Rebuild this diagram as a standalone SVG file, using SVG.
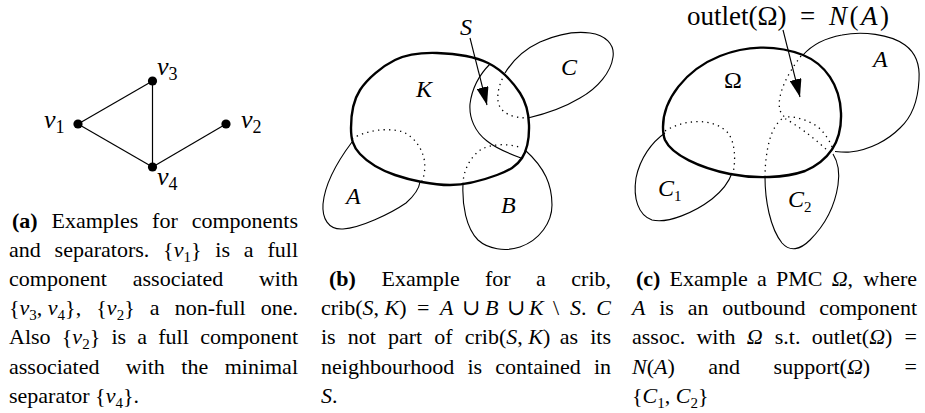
<svg xmlns="http://www.w3.org/2000/svg" width="925" height="413" viewBox="0 0 925 413">
<style>
.cap{font-family:"Liberation Serif","DejaVu Serif",serif;font-size:22px;fill:#000}
.b{font-weight:bold}
.i{font-style:italic}
.sub{font-size:15px;baseline-shift:-4.5px;font-style:normal}
.r{text-anchor:end}
.lbl{font-family:"Liberation Serif","DejaVu Serif",serif;font-style:italic;font-size:24px;fill:#000}
.up{font-style:normal}
.vl{font-family:"Liberation Serif","DejaVu Serif",serif;font-style:italic;font-size:26px;fill:#000}
.vsub{font-size:18px;baseline-shift:-5px;font-style:normal}
.fig{font-family:"Liberation Serif","DejaVu Serif",serif;font-size:27px;fill:#000}
.thick{fill:none;stroke:#000;stroke-width:2.4}
.thin{fill:none;stroke:#000;stroke-width:1.1}
.dot{fill:none;stroke:#000;stroke-width:1.3;stroke-dasharray:1.3 4.2}
.edge{stroke:#000;stroke-width:1.2}
.vtx{fill:#000}
</style>
<defs>
<marker id="ah" markerUnits="userSpaceOnUse" viewBox="0 0 18 12" markerWidth="18" markerHeight="12" refX="18" refY="6" orient="auto">
<path d="M0,0 L18,6 L0,12 z" fill="#000"/>
</marker>
</defs>

<!-- Panel (a) -->
<g id="connectors-a">
<line class="edge" x1="78" y1="124" x2="152.5" y2="81"/>
<line class="edge" x1="78" y1="124" x2="152.5" y2="167"/>
<line class="edge" x1="152.5" y1="81" x2="152.5" y2="167"/>
<line class="edge" x1="152.5" y1="167" x2="226" y2="124"/>
</g>
<g id="v1"><circle class="vtx" cx="78" cy="124" r="4.6"/><text class="vl" x="44" y="128">v<tspan class="vsub">1</tspan></text></g>
<g id="v3"><circle class="vtx" cx="152.5" cy="81" r="4.6"/><text class="vl" x="157" y="75">v<tspan class="vsub">3</tspan></text></g>
<g id="v2"><circle class="vtx" cx="226" cy="124" r="4.6"/><text class="vl" x="241" y="128">v<tspan class="vsub">2</tspan></text></g>
<g id="v4"><circle class="vtx" cx="152.5" cy="167" r="4.6"/><text class="vl" x="157" y="185">v<tspan class="vsub">4</tspan></text></g>

<!-- Panel (b) -->
<g id="region-K">
<path class="thick" d="M351,128 C351,117.3 352.7,101.3 360,90 C367.3,78.7 382.2,66.2 395,60 C407.8,53.8 421.5,52.5 437,53 C452.5,53.5 474.2,56.3 488,63 C501.8,69.7 513.2,82.7 520,93 C526.8,103.3 528.7,114.2 529,125 C529.3,135.8 527.3,149.7 522,158 C516.7,166.3 509,170.5 497,175 C485,179.5 467,185 450,185 C433,185 410,180.2 395,175 C380,169.8 367.3,161.8 360,154 C352.7,146.2 351,138.7 351,128 Z"/>
<text class="lbl" x="416" y="97">K</text>
</g>
<g id="region-A-b">
<path class="thin" d="M352,142 C340,158 325,182 323,204 C322,218 328,230 343,229 C360,228 390,214 406,203 C414,196 419,189 420,182"/>
<path class="dot" d="M421.7,181.7 C425,175 426,163 423,155 C420,146 413,136 403,132 C394,129 380,129 370,131.7 C362,133.5 357,136 353,138.3"/>
<text class="lbl" x="346" y="204">A</text>
</g>
<g id="region-B-b">
<path class="thin" d="M463,184 C462,205 466,228 478,240 C488,249 505,252 520,247 C540,240 552,222 552,205 C552,185 545,168 525,150"/>
<path class="dot" d="M463,184 C463,172 470,156 482,149 C492,144 508,143 522,148"/>
<text class="lbl" x="501" y="213">B</text>
</g>
<g id="region-C-b">
<path class="thin" d="M505,73 C513,60 525,49 540,42 C556,35 575,31 590,33 C605,35 615,44 613,57 C611,72 598,88 580,98 C565,107 545,114 528,118"/>
<path class="dot" d="M505,74 C500,82 497,92 498,101 C499,109 505,114 514,116.5 C519,117.5 524,118 528,118"/>
<text class="lbl" x="561" y="75">C</text>
</g>
<g id="region-S">
<path class="thin" d="M490,64 C480,74 472,88 470,104 C469,118 475,132 487,141 C497,149 510,154 521,158"/>
<text class="lbl" x="460" y="35">S</text>
</g>

<!-- Panel (c) -->
<g id="region-Omega">
<path class="thick" d="M663,127 C663,100 685,70 720,56 C745,46 775,44 803,55 C825,64 840,85 841,113 C842,140 830,160 805,171 C785,178 755,179 730,174 C700,168 672,155 665,140 C663,135 663,131 663,127 Z"/>
<text class="lbl up" x="724" y="88">Ω</text>
</g>
<g id="region-A-c">
<path class="thin" d="M803,55 C812,45 825,38 842,35 C862,31 890,34 905,45 C916,53 920,66 919,80 C918,100 912,117 900,128 C888,140 870,150 850,152 C845,152.5 840,152 835,151.5"/>
<path class="dot" d="M801,56 C792,68 783,82 780,97 C778,107 780,114 785,117 C795,116 808,120 818,127 C826,134 830,142 833,149"/>
<text class="lbl" x="873" y="67">A</text>
</g>
<g id="region-C2">
<path class="thin" d="M765,177 C765,200 770,228 782,243 C790,252 800,250 810,240 C825,225 835,205 838,185 C840,172 838,162 833,154"/>
<path class="dot" d="M765,177 C765,160 768,138 775,127 C778,122 781,119 784,118 C795,124 812,136 828,151"/>
<text class="lbl" x="788" y="207">C<tspan class="sub" font-size="17">2</tspan></text>
</g>
<g id="region-C1">
<path class="thin" d="M665,133 C652,142 640,158 636,178 C633,198 638,215 652,220 C668,224 695,212 712,199 C722,191 729,182 732,173"/>
<path class="dot" d="M665,131 C675,125 685,122 697,121.7 C710,121 722,126 728,133 C735,142 736,160 733,173"/>
<text class="lbl" x="658" y="196">C<tspan class="sub" font-size="17">1</tspan></text>
</g>
<text class="fig" y="25"><tspan x="687">outlet(Ω)</tspan><tspan x="800">=</tspan><tspan x="829" letter-spacing="2.5"><tspan class="i">N</tspan>(<tspan class="i">A</tspan>)</tspan></text>

<g id="connectors">
<line class="thin" x1="470" y1="38" x2="487" y2="105" marker-end="url(#ah)"/>
<line class="thin" x1="783" y1="30" x2="800" y2="97" marker-end="url(#ah)"/>
</g>

<!-- Caption (a) -->
<g id="caption-a">
<text class="cap" y="227.5"><tspan x="12" class="b">(a)</tspan><tspan x="51.5">Examples</tspan><tspan x="152.1">for</tspan></text>
<text class="cap r" x="298" y="227.5">components</text>
<text class="cap" y="256.7"><tspan x="9">and</tspan><tspan x="54.6">separators.</tspan><tspan x="163.1">{<tspan class="i">v</tspan><tspan class="sub">1</tspan>}</tspan><tspan x="215.3">is</tspan><tspan x="243.8">a</tspan></text>
<text class="cap r" x="298" y="256.7">full</text>
<text class="cap" y="285.9"><tspan x="9">component</tspan><tspan x="132.8">associated</tspan></text>
<text class="cap r" x="298" y="285.9">with</text>
<text class="cap" y="315.1"><tspan x="9">{<tspan class="i">v</tspan><tspan class="sub">3</tspan>, <tspan class="i">v</tspan><tspan class="sub">4</tspan>},</tspan><tspan x="96.3">{<tspan class="i">v</tspan><tspan class="sub">2</tspan>}</tspan><tspan x="149.8">a</tspan><tspan x="174.7">non-full</tspan></text>
<text class="cap r" x="298" y="315.1">one.</text>
<text class="cap" y="344.3"><tspan x="9">Also</tspan><tspan x="61.8">{<tspan class="i">v</tspan><tspan class="sub">2</tspan>}</tspan><tspan x="111.4">is</tspan><tspan x="137.3">a</tspan><tspan x="158.3">full</tspan></text>
<text class="cap r" x="298" y="344.3">component</text>
<text class="cap" y="373.5"><tspan x="9">associated</tspan><tspan x="125.7">with</tspan><tspan x="181.3">the</tspan></text>
<text class="cap r" x="298" y="373.5">minimal</text>
<text class="cap" x="9" y="402.7">separator {<tspan class="i">v</tspan><tspan class="sub">4</tspan>}.</text>
</g>

<!-- Caption (b) -->
<g id="caption-b">
<text class="cap" y="285.9"><tspan x="329" class="b">(b)</tspan><tspan x="381.5">Example</tspan><tspan x="485">for</tspan><tspan x="536">a</tspan></text>
<text class="cap r" x="611" y="285.9">crib,</text>
<text class="cap" y="315.1"><tspan x="321">crib(<tspan class="i">S</tspan>, <tspan class="i">K</tspan>)</tspan><tspan x="417">=</tspan><tspan x="440" class="i">A</tspan><tspan x="462">∪</tspan><tspan x="485" class="i">B</tspan><tspan x="507">∪</tspan><tspan x="529" class="i">K</tspan><tspan x="553">\</tspan><tspan x="570"><tspan class="i">S</tspan>.</tspan></text>
<text class="cap r i" x="611" y="315.1">C</text>
<text class="cap" y="344.3"><tspan x="321">is</tspan><tspan x="347.8">not</tspan><tspan x="388">part</tspan><tspan x="434.3">of</tspan><tspan x="464.7">crib(<tspan class="i">S</tspan>, <tspan class="i">K</tspan>)</tspan><tspan x="559.8">as</tspan></text>
<text class="cap r" x="611" y="344.3">its</text>
<text class="cap" y="373.5"><tspan x="321">neighbourhood</tspan><tspan x="467.4">is</tspan><tspan x="495.3">contained</tspan></text>
<text class="cap r" x="611" y="373.5">in</text>
<text class="cap" x="321" y="402.7"><tspan class="i">S</tspan>.</text>
</g>

<!-- Caption (c) -->
<g id="caption-c">
<text class="cap" y="285.9"><tspan x="636" class="b">(c)</tspan><tspan x="669.6">Example</tspan><tspan x="757">a</tspan><tspan x="776">PMC</tspan><tspan x="831.7"><tspan class="i">Ω</tspan>,</tspan></text>
<text class="cap r" x="917" y="285.9">where</text>
<text class="cap" y="315.1"><tspan x="632" class="i">A</tspan><tspan x="659.2">is</tspan><tspan x="687.7">an</tspan><tspan x="722.3">outbound</tspan></text>
<text class="cap r" x="917" y="315.1">component</text>
<text class="cap" y="344.3"><tspan x="632">assoc.</tspan><tspan x="696.4">with</tspan><tspan x="746.7" class="i">Ω</tspan><tspan x="774.8">s.t.</tspan><tspan x="811.7">outlet(<tspan class="i">Ω</tspan>)</tspan></text>
<text class="cap r" x="917" y="344.3">=</text>
<text class="cap" y="373.5"><tspan x="632"><tspan class="i">N</tspan>(<tspan class="i">A</tspan>)</tspan><tspan x="708.3">and</tspan><tspan x="773.6">support(<tspan class="i">Ω</tspan>)</tspan></text>
<text class="cap r" x="917" y="373.5">=</text>
<text class="cap" x="632" y="402.7">{<tspan class="i">C</tspan><tspan class="sub">1</tspan>, <tspan class="i">C</tspan><tspan class="sub">2</tspan>}</text>
</g>
</svg>
